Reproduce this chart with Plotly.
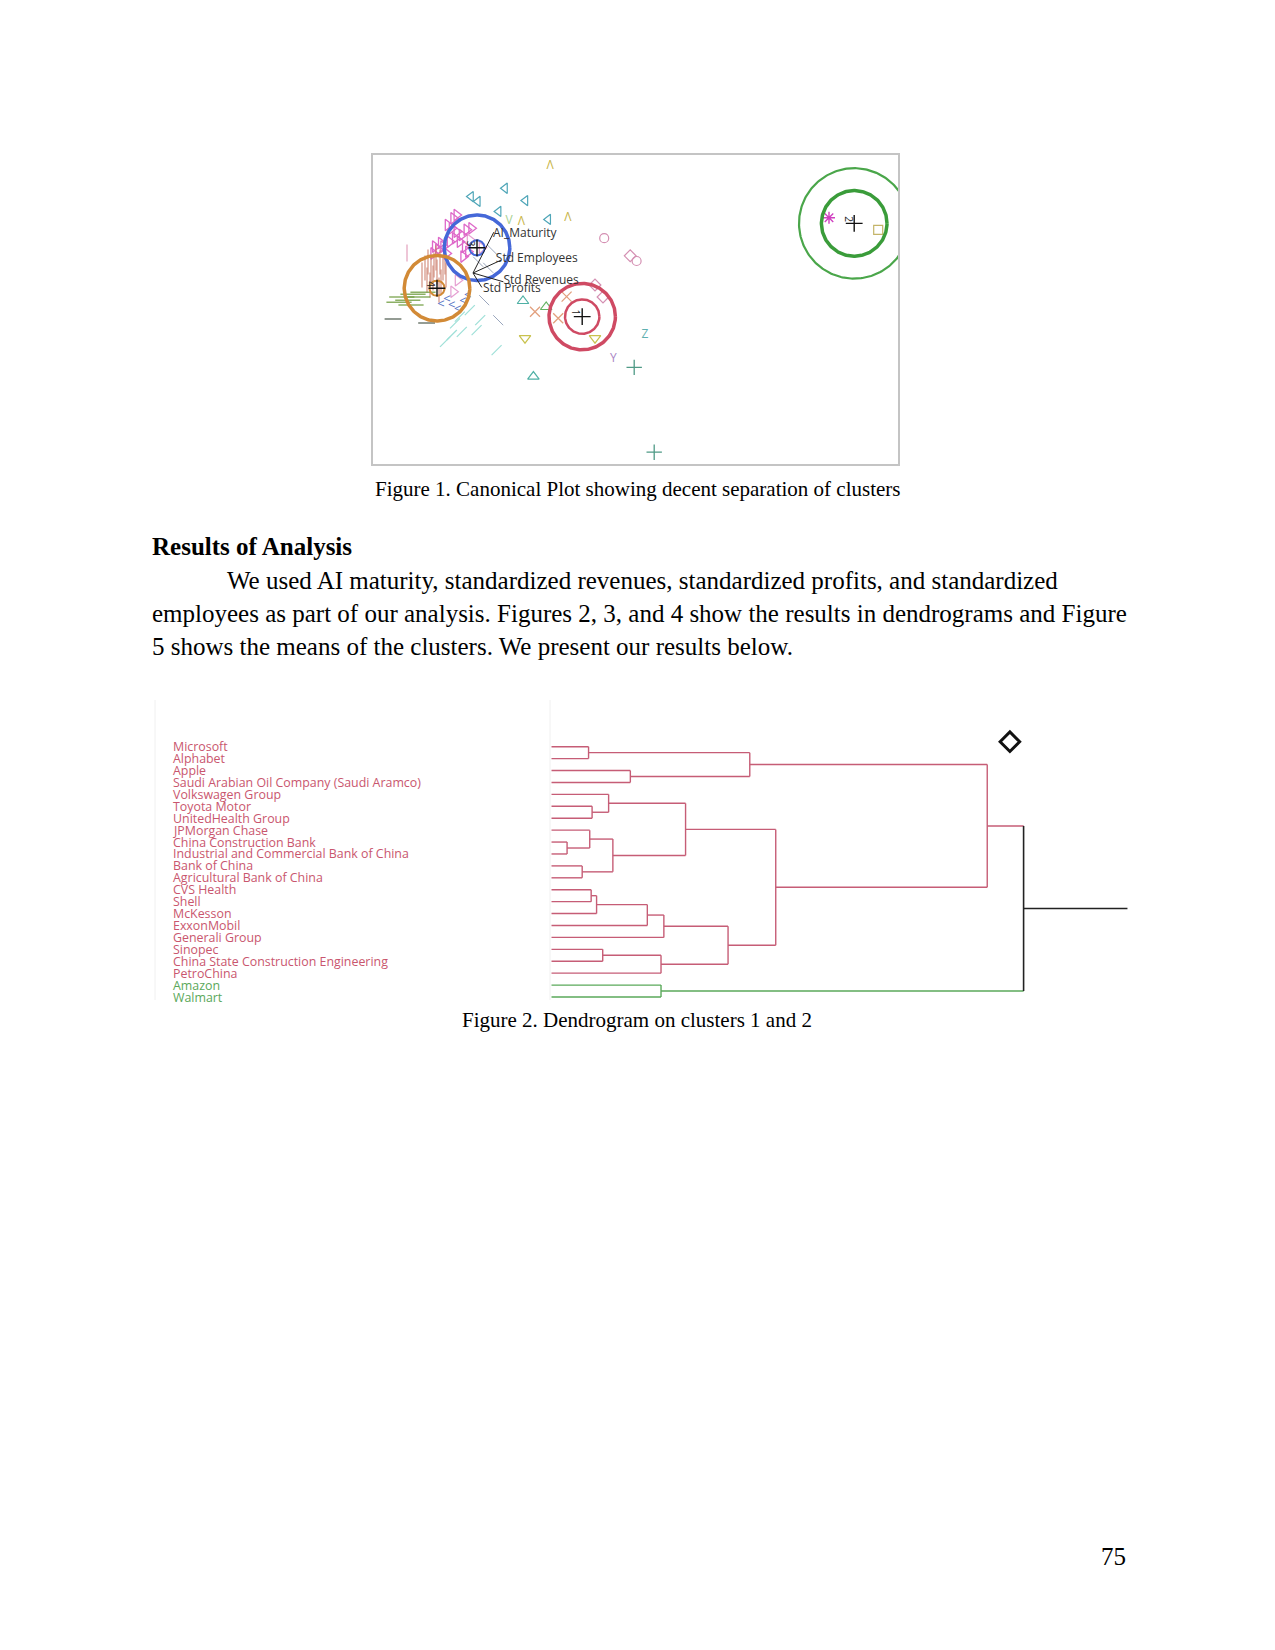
import numpy as np
import plotly.graph_objects as go

# page is 1275x1650; the html body has an 8px margin, so the figure is offset by 8px
OFF = 8
WF, HF = 1255, 1630


def px2x(x):
    return (x - OFF) / WF


def px2y(y):
    return 1 - (y - OFF) / HF


# ---------------- Figure 1: canonical plot (canonical units) ----------------
cluster_labels = ["1", "2", "3", "4"]
cluster_c1 = [2.73, 9.53, 0.10, -0.90]
cluster_c2 = [-1.09, 1.24, 0.63, -0.38]
cluster_r_outer = [0.83, 1.38, 0.82, 0.82]
cluster_r_inner = [0.43, 0.82, 0.19, 0.19]

biplot_vars = ["AI_Maturity", "Std Employees", "Std Revenues", "Std Profits"]
biplot_c1 = [0.52, 0.70, 0.76, 0.22]
biplot_c2 = [1.02, 0.32, -0.22, -0.36]
biplot_lab_c1 = [0.50, 0.57, 0.76, 0.25]
biplot_lab_c2 = [0.97, 0.35, -0.20, -0.40]

caret_c1 = [1.93, 2.37, 1.21]
caret_c2 = [2.68, 1.37, 1.28]
vee_c1 = [0.90]
vee_c2 = [1.30]
tri_left_c1 = [0.80, 1.31, 0.64, 1.88, -0.05, 0.12]
tri_left_c2 = [2.12, 1.81, 1.54, 1.34, 1.91, 1.79]
tri_right_c1 = [-0.41, -0.49, -0.53, -0.41, -0.28, -0.33, -0.20, -0.12, -0.24, -0.95,
                -0.87, -0.74, -0.99, -0.66, -0.58, -0.45, -0.16, -0.04, -0.63, -0.80]
tri_right_c2 = [1.45, 1.37, 1.12, 1.03, 0.95, 0.78, 0.66, 0.53, 0.41, 0.66,
                0.58, 0.66, 0.49, 0.49, 0.78, 0.87, 1.08, 1.12, 1.20, 0.75]
tri_right_light_c1 = [-0.49, -0.38, -0.08, 0.22]
tri_right_light_c2 = [-0.47, -0.18, 0.83, 0.63]
vbar_c1 = [-1.20, -1.125, -1.05, -0.975, -0.90, -0.825, -0.75, -0.675,
           -1.0, -1.15, -0.80, -0.925, -1.275, -0.70, -1.075, -0.85]
vbar_c2 = [0.125, 0.275, 0.075, 0.2, 0.025, 0.275, 0.125, -0.05,
           -0.125, -0.175, -0.225, 0.375, -0.05, 0.275, -0.3, -0.425]
vbar_pink_c1 = [-1.65]
vbar_pink_c2 = [0.50]
hbar_c1 = [-1.78, -1.63, -1.50, -1.85, -1.38, -1.55, -1.25]
hbar_c2 = [-0.60, -0.68, -0.53, -0.73, -0.60, -0.80, -0.48]
hbar_dark_c1 = [-2.00, -1.16]
hbar_dark_c2 = [-1.15, -1.25]
slash_c1 = [-0.70, -0.53, -0.45, -0.28, 0.09, 0.18, 0.59, -0.33, -0.08]
slash_c2 = [-1.72, -1.55, -1.26, -1.47, -1.43, -1.18, -1.93, -1.09, -0.93]
bslash_c1 = [0.63, 0.28, 0.13, 0.38, 0.48]
bslash_c2 = [-1.18, -0.68, 0.28, 0.13, 0.58]
chevron_c1 = [-0.53, -0.38, -0.65, -0.25, -0.13, -0.80]
chevron_c2 = [-0.83, -0.93, -0.68, -0.73, -0.58, -0.80]
tri_up_c1 = [1.25, 1.51]
tri_up_c2 = [-0.70, -2.59]
tri_up_green_c1 = [1.83]
tri_up_green_c2 = [-0.85]
tri_down_c1 = [1.30, 3.05]
tri_down_c2 = [-1.63, -1.63]
xmark_c1 = [2.34, 1.55, 2.13]
xmark_c2 = [-0.59, -0.97, -1.13]
diamond_c1 = [3.05, 3.25, 3.93]
diamond_c2 = [-0.30, -0.60, 0.43]
circ_c1 = [3.28, 4.09]
circ_c2 = [0.87, 0.30]
z_c1, z_c2 = [4.30], [-1.55]
y_c1, y_c2 = [3.51], [-2.16]
plus_c1 = [4.03, 4.53]
plus_c2 = [-2.36, -4.48]
star_c1, star_c2 = [8.90], [1.38]
square_c1, square_c2 = [10.13], [1.08]

# ---------------- Figure 2: dendrogram ----------------
leaf_names = ["Microsoft", "Alphabet", "Apple", "Saudi Arabian Oil Company (Saudi Aramco)",
              "Volkswagen Group", "Toyota Motor", "UnitedHealth Group", "JPMorgan Chase",
              "China Construction Bank", "Industrial and Commercial Bank of China",
              "Bank of China", "Agricultural Bank of China", "CVS Health", "Shell",
              "McKesson", "ExxonMobil", "Generali Group", "Sinopec",
              "China State Construction Engineering", "PetroChina", "Amazon", "Walmart"]
leaf_cluster = [1] * 20 + [2] * 2
merge_a = [0, 2, 22, 5, 4, 8, 7, 10, 28, 26, 12, 32, 33, 34, 17, 36, 35, 31, 24, 20, 40]
merge_b = [1, 3, 23, 6, 25, 9, 27, 11, 29, 30, 13, 14, 15, 16, 18, 19, 37, 38, 39, 21, 41]
merge_h = [7.85, 16.7, 42.0, 8.6, 12.1, 3.3, 8.1, 6.5, 13.0, 28.4, 8.4, 9.55,
           20.3, 23.8, 10.85, 23.2, 37.4, 47.5, 92.3, 23.2, 100.0]
stem_end = 122.0
flag_x, flag_y = [97.1], [-0.42]

RED = "#c65d76"
GREEN = "#5aa95a"
LABEL_RED = "#c9566e"
LABEL_GREEN = "#5aa85a"

fig = go.Figure()


def add_pts(c1, c2, symbol, color, size=9, width=1.2, opacity=1.0):
    fig.add_trace(go.Scatter(x=c1, y=c2, mode="markers", xaxis="x", yaxis="y",
                             opacity=opacity, hoverinfo="skip",
                             marker=dict(symbol=symbol, size=size, color=color,
                                         line=dict(color=color, width=width))))


def add_glyph(c1, c2, glyph, color, size=12):
    fig.add_trace(go.Scatter(x=c1, y=c2, mode="text", text=[glyph] * len(c1),
                             textposition="middle center", xaxis="x", yaxis="y",
                             hoverinfo="skip",
                             textfont=dict(family="Open Sans, DejaVu Sans", size=size, color=color)))


# scattered observations
add_glyph(caret_c1, caret_c2, "Λ", "#c8b54a", 12)
add_glyph(vee_c1, vee_c2, "V", "#a8d090", 12)
add_pts(tri_left_c1, tri_left_c2, "triangle-left-open", "#4fa6b8", 9)
add_pts(tri_right_light_c1, tri_right_light_c2, "triangle-right-open", "#e6a0d2", 10)
add_pts(tri_right_c1, tri_right_c2, "triangle-right-open", "#d94fc0", 10, 1.3, 0.85)
add_pts(vbar_c1, vbar_c2, "line-ns-open", "#c9735e", 18, 1.1, 0.85)
add_pts(vbar_pink_c1, vbar_pink_c2, "line-ns-open", "#e3a0bc", 12, 1.2)
add_pts(hbar_c1, hbar_c2, "line-ew-open", "#6f9c3e", 18, 1.2)
add_pts(hbar_dark_c1, hbar_dark_c2, "line-ew-open", "#4c5a4c", 12, 1.2)
add_pts(slash_c1, slash_c2, "line-ne-open", "#9fe0d8", 10, 1.2)
add_pts(bslash_c1, bslash_c2, "line-nw-open", "#9aa6bd", 10, 1.0)
add_glyph(chevron_c1, chevron_c2, "<", "#5573c4", 13)
add_pts(tri_up_c1, tri_up_c2, "triangle-up-open", "#4fb0a5", 10)
add_pts(tri_up_green_c1, tri_up_green_c2, "triangle-up-open", "#62b262", 10)
add_pts(tri_down_c1, tri_down_c2, "triangle-down-open", "#c9c24e", 10)
add_pts(xmark_c1, xmark_c2, "x-thin-open", "#e2a07e", 10, 1.3)
add_pts(diamond_c1, diamond_c2, "diamond-open", "#d48fb2", 9)
add_pts(circ_c1, circ_c2, "circle-open", "#d48fb2", 9)
add_glyph(z_c1, z_c2, "Z", "#5fb0b0", 12)
add_glyph(y_c1, y_c2, "Y", "#a884c4", 12)
add_pts(plus_c1, plus_c2, "cross-thin-open", "#4f9a86", 11, 1.3)
add_pts(star_c1, star_c2, "asterisk-open", "#d040c0", 10, 1.4)
add_pts(square_c1, square_c2, "square-open", "#c4b468", 9)

# cluster circles
outer_colors = ["#cf4a63", "#4aa64a", "#4568d8", "#d28a36"]
inner_colors = ["#cf4a63", "#3a9c3a", "#4568d8", "#d28a36"]
outer_w = [3.5, 2.2, 3.5, 3.5]
inner_w = [2.5, 3.5, 2.0, 2.0]
t = np.linspace(0, 2 * np.pi, 240)
for cx, cy, ro, ri, co, ci, wo, wi in zip(cluster_c1, cluster_c2, cluster_r_outer,
                                          cluster_r_inner, outer_colors, inner_colors,
                                          outer_w, inner_w):
    fig.add_trace(go.Scatter(x=cx + ro * np.cos(t), y=cy + ro * np.sin(t), mode="lines",
                             xaxis="x", yaxis="y", hoverinfo="skip",
                             line=dict(color=co, width=wo)))
    fig.add_trace(go.Scatter(x=cx + ri * np.cos(t), y=cy + ri * np.sin(t), mode="lines",
                             xaxis="x", yaxis="y", hoverinfo="skip",
                             line=dict(color=ci, width=wi)))

# cluster means
add_pts(cluster_c1, cluster_c2, "cross-thin-open", "#111111", 12, 1.4)
for lab, cx, cy in zip(cluster_labels, cluster_c1, cluster_c2):
    fig.add_annotation(x=cx, y=cy, xref="x", yref="y", text=lab, showarrow=False,
                       textangle=90, xshift=-6, yshift=4,
                       font=dict(family="Open Sans", size=10, color="#222222"))

# biplot rays
bx, by = [], []
for ex, ey in zip(biplot_c1, biplot_c2):
    bx += [0, ex, None]
    by += [0, ey, None]
fig.add_trace(go.Scatter(x=bx, y=by, mode="lines", xaxis="x", yaxis="y", hoverinfo="skip",
                         line=dict(color="#222222", width=1)))
fig.add_trace(go.Scatter(x=biplot_lab_c1, y=biplot_lab_c2, mode="text", text=biplot_vars,
                         textposition="middle right", xaxis="x", yaxis="y", hoverinfo="skip",
                         textfont=dict(family="Open Sans", size=12, color="#333333")))

# ---------------- dendrogram geometry ----------------
n = len(leaf_names)
pos = {i: float(i) for i in range(n)}
hgt = {i: 0.0 for i in range(n)}
col = {i: leaf_cluster[i] for i in range(n)}
segs = {1: ([], []), 2: ([], []), 0: ([], [])}
for k, (a, b, h) in enumerate(zip(merge_a, merge_b, merge_h)):
    nid = n + k
    same = col[a] == col[b]
    c_node = col[a] if same else 0
    for ch in (a, b):
        sx, sy = segs[col[ch]]
        sx += [hgt[ch], h, None]
        sy += [pos[ch], pos[ch], None]
    vx, vy = segs[c_node]
    vx += [h, h, None]
    vy += [pos[a], pos[b], None]
    pos[nid] = (pos[a] + pos[b]) / 2
    hgt[nid] = h
    col[nid] = c_node
root = n + len(merge_h) - 1
segs[0][0].extend([hgt[root], stem_end, None])
segs[0][1].extend([pos[root], pos[root], None])

seg_colors = {1: RED, 2: GREEN, 0: "#222222"}
seg_width = {1: 1.4, 2: 1.4, 0: 1.6}
for key in (1, 2, 0):
    fig.add_trace(go.Scatter(x=segs[key][0], y=segs[key][1], mode="lines",
                             xaxis="x2", yaxis="y2", hoverinfo="skip",
                             line=dict(color=seg_colors[key], width=seg_width[key])))
fig.add_trace(go.Scatter(x=flag_x, y=flag_y, mode="markers", xaxis="x2", yaxis="y2",
                         hoverinfo="skip",
                         marker=dict(symbol="diamond-open", size=15, color="#111111",
                                     line=dict(color="#111111", width=3))))

for i, name in enumerate(leaf_names):
    fig.add_annotation(x=px2x(171), xref="paper", y=i, yref="y2", text=name,
                       showarrow=False, xanchor="left", yanchor="middle",
                       font=dict(family="Open Sans", size=12.4,
                                 color=LABEL_RED if leaf_cluster[i] == 1 else LABEL_GREEN))

# faint panel borders
for xp in (155, 550):
    fig.add_shape(type="line", xref="paper", yref="paper", x0=px2x(xp), x1=px2x(xp),
                  y0=px2y(1000), y1=px2y(700), line=dict(color="#f0f0f0", width=1))

# ---------------- page text ----------------
serif = "Liberation Serif, Times New Roman, serif"


def page_text(txt, xpx, ypx, size, anchor="left", bold=False):
    fig.add_annotation(x=px2x(xpx), y=px2y(ypx), xref="paper", yref="paper",
                       text=("<b>%s</b>" % txt) if bold else txt, showarrow=False,
                       xanchor=anchor, yanchor="middle",
                       font=dict(family=serif, size=size, color="#000000"))


page_text("Figure 1. Canonical Plot showing decent separation of clusters", 637, 489, 21, "center")
page_text("Results of Analysis", 150, 546, 25, bold=True)
page_text("We used AI maturity, standardized revenues, standardized profits, and standardized",
          225, 580, 25)
page_text("employees as part of our analysis. Figures 2, 3, and 4 show the results in dendrograms and Figure",
          150, 613, 25)
page_text("5 shows the means of the clusters. We present our results below.", 150, 647, 25)
page_text("Figure 2. Dendrogram on clusters 1 and 2", 637, 1020, 21, "center")
page_text("75", 1113, 1556, 25, "center")

axis_off = dict(showgrid=False, zeroline=False, showticklabels=False, ticks="",
                fixedrange=True)
fig.update_layout(
    width=WF, height=HF, margin=dict(l=0, r=0, t=0, b=0),
    paper_bgcolor="white", plot_bgcolor="white", showlegend=False,
    xaxis=dict(domain=[px2x(373), px2x(898)], range=[-2.5, 10.625], anchor="y",
               showline=True, mirror=True, linecolor="#c4c4c4", linewidth=2, **axis_off),
    yaxis=dict(domain=[px2y(464), px2y(155)], range=[-4.775, 2.95], anchor="x",
               showline=True, mirror=True, linecolor="#c4c4c4", linewidth=2, **axis_off),
    xaxis2=dict(domain=[px2x(545), px2x(1135)], range=[-1.377, 123.6], anchor="y2",
                showline=False, **axis_off),
    yaxis2=dict(domain=[px2y(1010), px2y(725)], range=[22.09, -1.82], anchor="x2",
                showline=False, **axis_off),
)

fig.write_html("out.html", config={"displayModeBar": False})
